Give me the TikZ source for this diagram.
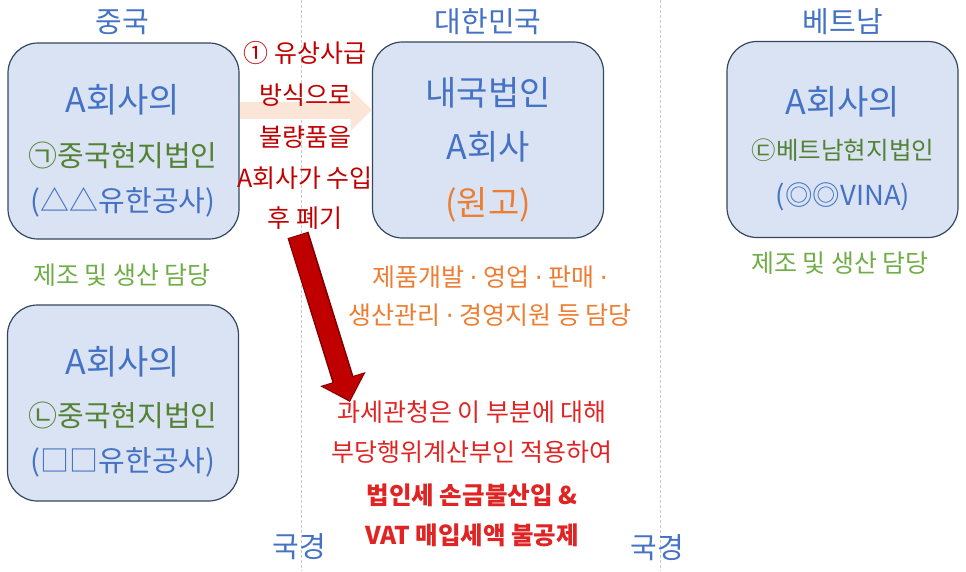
\documentclass[tikz,border=0pt]{standalone}
\usepackage{fontspec}
\newfontfamily\kr{Noto Sans CJK KR}
\newfontfamily\latn{DejaVu Sans}
\usetikzlibrary{arrows.meta}
\definecolor{boxfill}{HTML}{DAE3F3}
\definecolor{boxline}{HTML}{34475F}
\definecolor{txtblue}{HTML}{4472C4}
\definecolor{txtgreen}{HTML}{548235}
\definecolor{lightgreen}{HTML}{70AD47}
\definecolor{txtorange}{HTML}{ED7D31}
\definecolor{darkred}{HTML}{C00000}
\definecolor{deepred}{HTML}{7F0000}
\definecolor{brightred}{HTML}{E02424}
\definecolor{peach}{HTML}{FBE5D6}
\definecolor{borderline}{HTML}{C8C8C8}
\newcommand\fsz[1]{\fontsize{#1}{#1}\selectfont}
\newcommand\mdot{{\latn ·}}

\begin{document}
\begin{tikzpicture}[x=1pt,y=-1pt,font=\kr,
  corp/.style={draw=boxline,line width=1.2pt,fill=boxfill,rounded corners=30pt,
    minimum width=231pt,minimum height=196pt},
  sz/.style={font=\kr\fsz{#1}},
  country/.style={txtblue,sz=29},
  redtxt/.style={darkred,sz=25},
  taxtxt/.style={brightred,sz=25}]
\useasboundingbox (0,0) rectangle (966,571);
\draw[borderline,densely dashed,line width=0.6pt] (301,0) -- (301,571);
\draw[borderline,densely dashed,line width=0.6pt] (660,0) -- (660,571);
\node[country] (cntitle) at (122,22) {중국};
\node[country] (krtitle) at (488,22) {대한민국};
\node[country] (vntitle) at (843,22) {베트남};
\node[corp] (cn1) at (123.5,141) {};
\node[corp] (kr) at (488,140) {};
\node[corp] (vn) at (842.5,139.5) {};
\node[corp] (cn2) at (123,403) {};
\node[txtblue,sz=34] (cn1a) at (123,100) {A회사의};
\node[txtgreen,sz=29] (cn1b) at (123,155) {㉠중국현지법인};
\node[txtblue,sz=29] (cn1c) at (123,202) {(△△유한공사)};
\node[txtblue,sz=34] (kra) at (488,93) {내국법인};
\node[txtblue,sz=34] (krb) at (488,147) {A회사};
\node[txtorange,sz=34] (krc) at (488,205) {(원고)};
\node[txtblue,sz=34] (vna) at (843,102) {A회사의};
\node[txtgreen,sz=24.5] (vnb) at (843,150) {㉢베트남현지법인};
\node[txtblue,sz=27.5] (vnc) at (843,197) {(◎◎VINA)};
\node[txtblue,sz=34] (cn2a) at (123,362) {A회사의};
\node[txtgreen,sz=29] (cn2b) at (123,415) {㉡중국현지법인};
\node[txtblue,sz=29] (cn2c) at (123,462) {(□□유한공사)};
\node[lightgreen,sz=25] (cn1role) at (122,275) {제조 및 생산 담당};
\node[lightgreen,sz=25] (vnrole) at (840,263) {제조 및 생산 담당};
\node[txtorange,sz=25] (krrole1) at (490,277) {제품개발 \mdot{} 영업 \mdot{} 판매 \mdot};
\node[txtorange,sz=25] (krrole2) at (490,315) {생산관리 \mdot{} 경영지원 등 담당};
\draw[peach,line width=17pt,-{Triangle[length=21pt,width=40pt]}]
  ([yshift=31pt]cn1.east) -- ([yshift=30pt]kr.west);
\node[redtxt] (deal1) at (305,53) {① 유상사급};
\node[redtxt] (deal2) at (305,95) {방식으로};
\node[redtxt] (deal3) at (305,137) {불량품을};
\node[redtxt] (deal4) at (305,178) {A회사가 수입};
\node[redtxt] (deal5) at (305,218) {후 폐기};
\node[taxtxt] (tax1) at (472,412) {과세관청은 이 부분에 대해};
\node[taxtxt] (tax2) at (472,452) {부당행위계산부인 적용하여};
\node[taxtxt,font=\kr\fsz{24.5}\bfseries] (tax3) at (472,495) {법인세 손금불산입 \&};
\node[taxtxt,font=\kr\fsz{24.5}\bfseries] (tax4) at (472,535) {VAT 매입세액 불공제};
\coordinate (taxtip) at (350,402);
\draw[deepred,line width=22pt,-{Triangle[length=24pt,width=46pt]}]
  ([xshift=-7pt,yshift=-2pt]deal5.south) -- (taxtip);
\draw[darkred,line width=19pt,-{Triangle[length=21.5pt,width=41pt]}]
  ([xshift=-7pt,yshift=-3pt]deal5.south) -- ([xshift=-0.4pt,yshift=1.5pt]taxtip);
\node[country] (border1) at (299,547) {국경};
\node[country] (border2) at (657,548) {국경};
\end{tikzpicture}
\end{document}
